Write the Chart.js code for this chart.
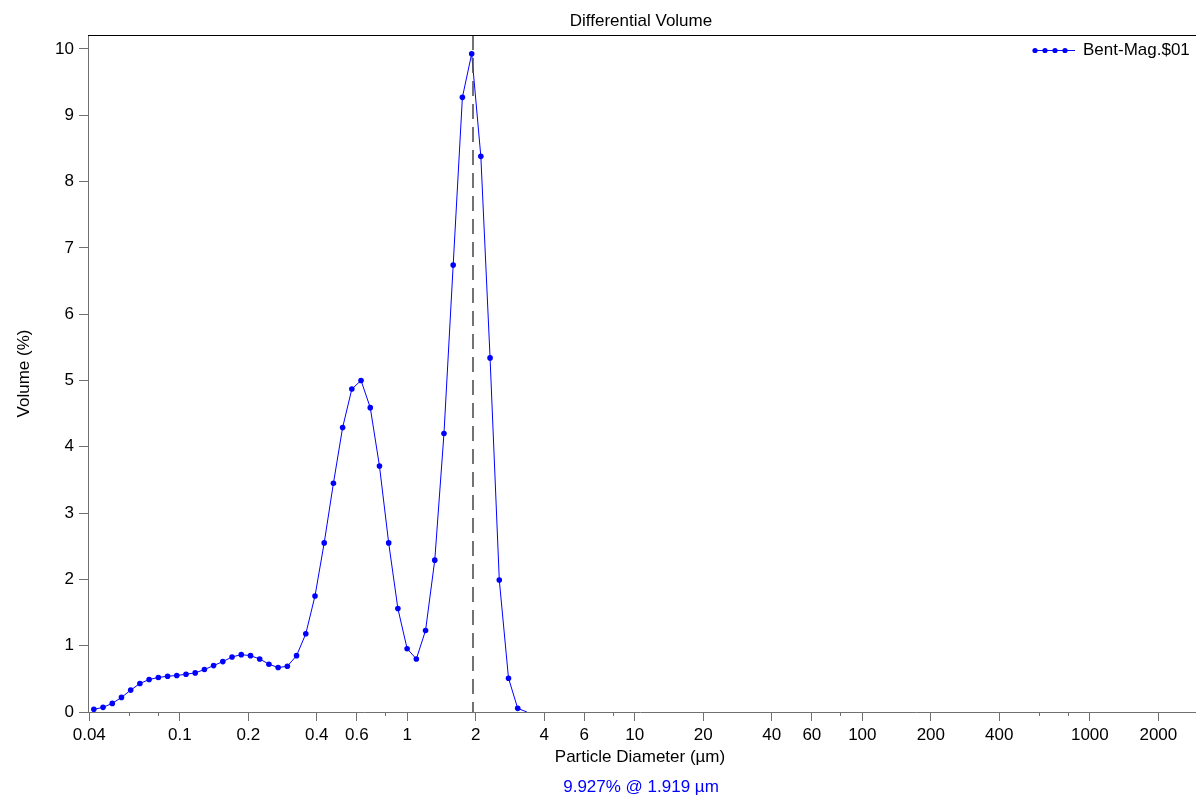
<!DOCTYPE html>
<html>
<head>
<meta charset="utf-8">
<script src="https://cdn.jsdelivr.net/npm/chart.js@4.4.0/dist/chart.umd.min.js"></script>
<style>
  html, body { margin: 0; padding: 0; background: #ffffff; }
  #wrap { width: 1196px; height: 796px; }
</style>
</head>
<body>
<div id="wrap"><canvas id="chart" width="1196" height="796"></canvas></div>
<script>
// Channel mid-point diameters (µm) of the size distribution
const diameters = [
  0.04191, 0.04600, 0.05050, 0.05543, 0.06085, 0.06679, 0.07332, 0.08050,
  0.08838, 0.09701, 0.1065, 0.1169, 0.1283, 0.1408, 0.1546, 0.1697,
  0.1863, 0.2046, 0.2245, 0.2465, 0.2706, 0.2970, 0.3261, 0.3580,
  0.3929, 0.4313, 0.4735, 0.5197, 0.5705, 0.6262, 0.6874, 0.7545,
  0.8283, 0.9092, 0.9983, 1.0959, 1.2029, 1.3205, 1.4495, 1.5911,
  1.7466, 1.919, 2.105, 2.311, 2.537, 2.785, 3.057, 3.356
];

// Differential volume (%) per channel
const volumes = [
  0.04, 0.07, 0.13, 0.22, 0.33, 0.43, 0.49, 0.52,
  0.54, 0.55, 0.57, 0.59, 0.64, 0.70, 0.76, 0.83,
  0.865, 0.85, 0.80, 0.72, 0.67, 0.69, 0.85, 1.18,
  1.75, 2.55, 3.45, 4.29, 4.87, 5.00, 4.59, 3.71,
  2.55, 1.56, 0.955, 0.80, 1.23, 2.29, 4.20, 6.74,
  9.27, 9.927, 8.38, 5.34, 1.99, 0.51, 0.055, 0
];

// Axis ticks
const xLabelTicks = [0.04, 0.1, 0.2, 0.4, 0.6, 1, 2, 4, 6, 10, 20, 40, 60, 100, 200, 400, 1000, 2000];
const xMinorTicks = [0.06, 0.08, 0.8, 8, 80, 600, 800];
const yTicks = [0, 1, 2, 3, 4, 5, 6, 7, 8, 9, 10];

const seriesName = 'Bent-Mag.$01';
const chartTitle = 'Differential Volume';
const xTitle = 'Particle Diameter (µm)';
const yTitle = 'Volume (%)';
const peakVolume = 9.927;
const peakDiameter = 1.919;

const FONT = '"Liberation Sans", Arial, sans-serif';
const AXIS_GRAY = '#707070';
const SERIES_BLUE = '#0000ff';

Chart.defaults.font.family = FONT;
Chart.defaults.color = '#000000';

// Extra drawing: title, frame top, minor ticks, peak marker line, legend, peak note
const decorations = {
  id: 'decorations',
  afterDatasetsDraw(chart) {
    const { ctx, chartArea: a, scales: { x } } = chart;
    ctx.save();

    // minor ticks on the size axis
    ctx.strokeStyle = AXIS_GRAY;
    ctx.lineWidth = 1;
    xMinorTicks.forEach(v => {
      const px = Math.round(x.getPixelForValue(v)) + 0.5;
      ctx.beginPath();
      ctx.moveTo(px, a.bottom);
      ctx.lineTo(px, a.bottom + 4);
      ctx.stroke();
    });

    // axis line carried on to the right edge
    ctx.beginPath();
    ctx.moveTo(a.right, a.bottom + 0.5);
    ctx.lineTo(chart.width, a.bottom + 0.5);
    ctx.stroke();

    // dashed line through the mode
    const mx = Math.round(x.getPixelForValue(peakDiameter)) + 1;
    ctx.strokeStyle = '#505050';
    ctx.lineWidth = 1.6;
    ctx.setLineDash([15, 8]);
    ctx.beginPath();
    ctx.moveTo(mx, a.top);
    ctx.lineTo(mx, a.bottom);
    ctx.stroke();
    ctx.setLineDash([]);

    // top frame line
    ctx.strokeStyle = '#000000';
    ctx.lineWidth = 1;
    ctx.beginPath();
    ctx.moveTo(a.left, a.top + 0.5);
    ctx.lineTo(chart.width, a.top + 0.5);
    ctx.stroke();

    // title
    const cx = (a.left + a.right) / 2 + 1;
    ctx.fillStyle = '#000000';
    ctx.font = '17px ' + FONT;
    ctx.textAlign = 'center';
    ctx.textBaseline = 'middle';
    ctx.fillText(chartTitle, cx, 21);

    // peak note under the axis title
    ctx.fillStyle = SERIES_BLUE;
    ctx.fillText(`${peakVolume}% @ ${peakDiameter} µm`, cx, 787);

    // legend
    const ds = chart.data.datasets[0];
    const ly = 50;
    const lx0 = a.right - 159, lx1 = a.right - 117;
    ctx.strokeStyle = ds.borderColor;
    ctx.lineWidth = 1;
    ctx.beginPath();
    ctx.moveTo(lx0, ly + 0.5);
    ctx.lineTo(lx1, ly + 0.5);
    ctx.stroke();
    ctx.fillStyle = ds.pointBackgroundColor;
    [2, 12, 22, 32].forEach(dx => {
      ctx.beginPath();
      ctx.arc(lx0 + dx, ly + 0.5, 2.6, 0, Math.PI * 2);
      ctx.fill();
    });
    ctx.fillStyle = '#000000';
    ctx.textAlign = 'left';
    ctx.fillText(ds.label, a.right - 109, ly);

    ctx.restore();
  }
};

new Chart(document.getElementById('chart'), {
  type: 'line',
  data: {
    datasets: [{
      label: seriesName,
      data: diameters.map((d, i) => ({ x: d, y: volumes[i] })),
      borderColor: SERIES_BLUE,
      backgroundColor: SERIES_BLUE,
      pointBackgroundColor: SERIES_BLUE,
      borderWidth: 1,
      pointBorderWidth: 0,
      pointRadius: ctx => (ctx.raw && ctx.raw.y === 0 ? 0 : 2.8),
      tension: 0,
      fill: false
    }]
  },
  options: {
    responsive: false,
    animation: false,
    devicePixelRatio: 1,
    layout: { padding: { top: 35, right: 0, bottom: 0, left: 0 } },
    plugins: {
      legend: { display: false },
      title: { display: false },
      tooltip: { enabled: false }
    },
    scales: {
      x: {
        type: 'logarithmic',
        position: 'bottom',
        min: 0.0395,
        max: 2812,
        afterBuildTicks: s => { s.ticks = xLabelTicks.map(v => ({ value: v })); },
        afterFit: s => { s.height = 84; },
        ticks: {
          autoSkip: false,
          maxRotation: 0,
          minRotation: 0,
          padding: 4,
          color: '#000000',
          font: { size: 17 },
          callback: v => String(v)
        },
        grid: { drawOnChartArea: false, tickLength: 9, color: AXIS_GRAY },
        border: { display: true, color: AXIS_GRAY, width: 1 },
        title: {
          display: true,
          text: xTitle,
          color: '#000000',
          font: { size: 17 },
          padding: { top: 0, bottom: 28 }
        }
      },
      y: {
        type: 'linear',
        min: 0,
        max: 10.21,
        afterBuildTicks: s => { s.ticks = yTicks.map(v => ({ value: v })); },
        afterFit: s => { s.width = 88; },
        ticks: {
          padding: 5,
          color: '#000000',
          font: { size: 17 },
          callback: v => String(v)
        },
        grid: { drawOnChartArea: false, tickLength: 9, color: AXIS_GRAY },
        border: { display: true, color: AXIS_GRAY, width: 1 },
        title: {
          display: true,
          text: yTitle,
          color: '#000000',
          font: { size: 17 },
          padding: { top: 14, bottom: 0 }
        }
      }
    }
  },
  plugins: [decorations]
});
</script>
</body>
</html>
